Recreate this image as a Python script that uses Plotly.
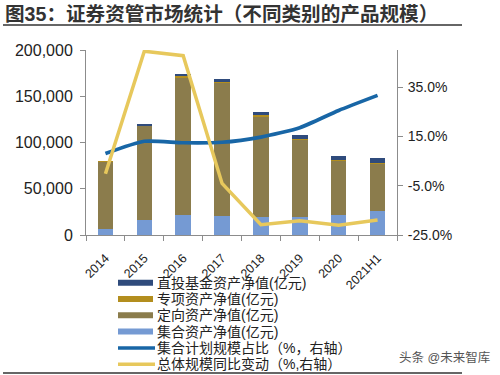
import plotly.graph_objects as go

categories = ["2014", "2015", "2016", "2017", "2018", "2019", "2020", "2021H1"]
jihe = [6500, 15900, 21600, 20900, 19000, 20000, 21500, 26200]          # 集合资产净值
dingxiang = [72500, 102000, 148500, 144000, 109600, 82700, 58500, 51300]  # 定向资产净值
zhuanxiang = [500, 1000, 2800, 500, 800, 600, 600, 600]                # 专项资产净值
zhitou = [0, 300, 1700, 3600, 4000, 4500, 4800, 5100]                 # 直投基金资产净值
ratio_pct = [8.0, 13.0, 12.4, 12.6, 14.7, 18.5, 25.5, 31.6]           # 集合计划规模占比
yoy_pct = [-0.2, 49.5, 47.7, -4.1, -20.8, -19.2, -21.0, -18.9]        # 总体规模同比变动

C_ZHITOU = "#2F4B7C"
C_ZHUAN = "#B38E1E"
C_DING = "#8B7C4C"
C_JIHE = "#759AD3"
C_BLUE = "#1866A6"
C_YELLOW = "#E7C85C"

legend_names = ["直投基金资产净值(亿元)", "专项资产净值(亿元)", "定向资产净值(亿元)",
                "集合资产净值(亿元)", "集合计划规模占比（%，右轴）", "总体规模同比变动（%,右轴）"]
legend_colors = [C_ZHITOU, C_ZHUAN, C_DING, C_JIHE, C_BLUE, C_YELLOW]
legend_kinds = ["bar", "bar", "bar", "bar", "line", "line"]

fig = go.Figure()
# stacked bars, bottom first
for vals, col, nm in [(jihe, C_JIHE, legend_names[3]), (dingxiang, C_DING, legend_names[2]),
                      (zhuanxiang, C_ZHUAN, legend_names[1]), (zhitou, C_ZHITOU, legend_names[0])]:
    fig.add_trace(go.Bar(x=categories, y=vals, name=nm, marker=dict(color=col, line=dict(width=0)),
                         showlegend=False, width=0.4))

fig.add_trace(go.Scatter(x=categories, y=ratio_pct, yaxis="y2", mode="lines",
                         name=legend_names[4], showlegend=False,
                         line=dict(color=C_BLUE, width=3.7, shape="spline", smoothing=0.6)))
fig.add_trace(go.Scatter(x=categories, y=yoy_pct, yaxis="y2", mode="lines",
                         name=legend_names[5], showlegend=False,
                         line=dict(color=C_YELLOW, width=3.5)))

axis_col = "#8c8c8c"
MIX_FONT = "Liberation Sans, Noto Sans CJK SC"

# plot area in pixels: x 86..397, y 50..235
def px_x(p):
    return (p - 86) / 311

def px_y(p):
    return (235 - p) / 185

shapes = [
    dict(type="line", xref="paper", yref="paper", x0=px_x(3), x1=px_x(462),
         y0=px_y(25), y1=px_y(25), line=dict(color="#333", width=1.5)),
    dict(type="line", xref="paper", yref="paper", x0=px_x(3), x1=px_x(462),
         y0=px_y(373), y1=px_y(373), line=dict(color="#333", width=1.5)),
]
annotations = [
    dict(text="头条 @未来智库", xref="paper", yref="paper",
         x=px_x(397), y=px_y(357), xanchor="left", yanchor="middle",
         showarrow=False, font=dict(family=MIX_FONT, size=12.5, color="#555")),
]

# manual legend (compact row spacing as in the original)
row_y = [282.7, 299.0, 315.3, 331.6, 347.9, 364.2]
for nm, col, kind, ry in zip(legend_names, legend_colors, legend_kinds, row_y):
    if kind == "bar":
        shapes.append(dict(type="rect", xref="paper", yref="paper",
                           x0=px_x(118), x1=px_x(153), y0=px_y(ry + 3), y1=px_y(ry - 3),
                           fillcolor=col, line=dict(width=0)))
    else:
        shapes.append(dict(type="line", xref="paper", yref="paper",
                           x0=px_x(118), x1=px_x(155), y0=px_y(ry), y1=px_y(ry),
                           line=dict(color=col, width=3.5)))
    annotations.append(dict(text=nm, xref="paper", yref="paper", x=px_x(156), y=px_y(ry),
                            xanchor="left", yanchor="middle", showarrow=False, borderpad=0,
                            font=dict(family=MIX_FONT, size=14, color="#222")))

fig.update_layout(
    width=500, height=375,
    margin=dict(l=86, r=103, t=50, b=140),
    paper_bgcolor="white", plot_bgcolor="white",
    barmode="stack",
    showlegend=False,
    font=dict(family=MIX_FONT, color="#222"),
    title=dict(text="<b>图35：证券资管市场统计（不同类别的产品规模）</b>",
               x=0.01, xanchor="left", xref="container",
               y=1 - 14.5 / 375, yanchor="middle", yref="container",
               font=dict(family=MIX_FONT, size=19.6, color="#333")),
    xaxis=dict(type="category", showline=True, linecolor=axis_col, linewidth=1,
               ticks="outside", tickson="boundaries", ticklen=5, tickcolor=axis_col,
               tickangle=-45, ticklabelstandoff=10,
               tickfont=dict(family="Liberation Sans, Arial", size=12.5, color="#222"),
               showgrid=False, zeroline=False),
    yaxis=dict(range=[0, 200000], tickvals=[0, 50000, 100000, 150000, 200000],
               tickformat=",", showline=True, linecolor=axis_col, linewidth=1,
               ticks="outside", ticklen=5, tickcolor=axis_col, ticklabelstandoff=4,
               tickfont=dict(family="Liberation Sans, Arial", size=16, color="#222"),
               showgrid=False, zeroline=False),
    yaxis2=dict(range=[-25, 50], overlaying="y", side="right",
                tickvals=[-25, -5, 15, 35], ticktext=["-25.0%", "-5.0%", "15.0%", "35.0%"],
                showline=True, linecolor=axis_col, linewidth=1,
                ticks="outside", ticklen=5, tickcolor=axis_col, ticklabelstandoff=2,
                tickfont=dict(family="Liberation Sans, Arial", size=14, color="#222"),
                showgrid=False, zeroline=False),
    shapes=shapes,
    annotations=annotations,
)

fig.write_html("out.html", config={"displayModeBar": False},
               post_script="document.body.style.margin='0';")
